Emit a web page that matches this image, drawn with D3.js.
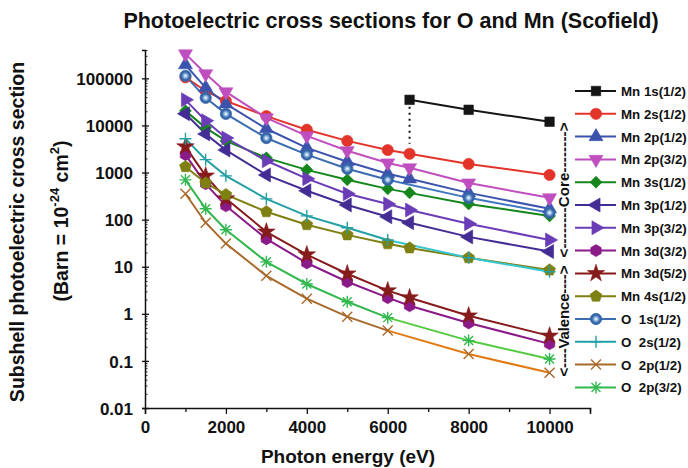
<!DOCTYPE html>
<html>
<head>
<meta charset="utf-8">
<script src="https://cdn.jsdelivr.net/npm/d3@7"></script>
<style>
  html, body { margin: 0; padding: 0; background: #fff; }
  svg { display: block; }
  text { font-family: "Liberation Sans", Arial, Helvetica, sans-serif; font-weight: bold; fill: #111; }
</style>
</head>
<body>
<svg id="chart" width="688" height="468"></svg>
<script>
// Photon energies (eV) at which cross sections are tabulated
const energyMn = [1000, 1500, 2000, 3000, 4000, 5000, 6000, 6540, 8000, 10000];
const energyO = [1000, 1500, 2000, 3000, 4000, 5000, 6000, 8000, 10000];
const energyMn1s = [6540, 8000, 10000];

// Subshell photoelectric cross sections (barn)
const mn1s   = [35000, 21500, 12000];
const mn2s   = [105000, 54000, 33000, 15800, 8100, 4700, 3000, 2500, 1520, 890];
const mn2p12 = [194000, 63000, 28700, 8500, 3340, 1700, 940, 735, 370, 170];
const mn2p32 = [331000, 125000, 51600, 14500, 6000, 2900, 1600, 1260, 600, 290];
const mn3s   = [20400, 8900, 4700, 2050, 1140, 700, 450, 370, 215, 120];
const mn3p12 = [17700, 6600, 3000, 890, 410, 205, 115, 86, 43, 21];
const mn3p32 = [35000, 12600, 5400, 1780, 740, 355, 215, 160, 82, 37];
const mn3d32 = [2400, 575, 196, 39, 12, 4.8, 2.2, 1.48, 0.64, 0.23];
const mn3d52 = [3540, 850, 280, 55, 18, 7.1, 3.1, 2.2, 0.91, 0.34];
const mn4s   = [1330, 600, 340, 147, 78, 47.5, 30.6, 25, 15.5, 8.5];
const o1s    = [113000, 38600, 17600, 5400, 2400, 1200, 700, 290, 140];
const o2s    = [5200, 1880, 850, 276, 120, 67, 37, 15.5, 7.8];
const o2p12  = [355, 86, 31, 6.4, 2.1, 0.87, 0.44, 0.14, 0.056];
const o2p32  = [700, 170, 61, 12.7, 4.3, 1.8, 0.83, 0.27, 0.11];

const seriesNames = ["Mn 1s(1/2)", "Mn 2s(1/2)", "Mn 2p(1/2)", "Mn 2p(3/2)", "Mn 3s(1/2)",
  "Mn 3p(1/2)", "Mn 3p(3/2)", "Mn 3d(3/2)", "Mn 3d(5/2)", "Mn 4s(1/2)",
  "O  1s(1/2)", "O  2s(1/2)", "O  2p(1/2)", "O  2p(3/2)"];

// Axis ticks
const xMajorTicks = [0, 2000, 4000, 6000, 8000, 10000];
const xTickLabels = ["0", "2000", "4000", "6000", "8000", "10000"];
const xMinorTicks = [1000, 3000, 5000, 7000, 9000, 11000];
const yMajorTicks = [0.01, 0.1, 1, 10, 100, 1000, 10000, 100000];
const yTickLabels = ["0.01", "0.1", "1", "10", "100", "1000", "10000", "100000"];

const svg = d3.select("#chart");
const x = d3.scaleLinear().domain([0, 11000]).range([145, 590]);
const y = d3.scaleLog().domain([0.01, 4e5]).range([408, 50]);

// Marker shapes
function poly(n, r, start) {
  const pts = d3.range(n).map(i => {
    const a = start + i * 2 * Math.PI / n;
    return [r * Math.cos(a), r * Math.sin(a)];
  });
  return "M" + pts.map(p => p[0].toFixed(2) + "," + p[1].toFixed(2)).join("L") + "Z";
}
const shapes = {
  square:   { d: d3.symbol(d3.symbolSquare, 90)(), rot: 0, filled: true },
  circle:   { d: d3.symbol(d3.symbolCircle, 100)(), rot: 0, filled: true },
  triUp:    { d: d3.symbol(d3.symbolTriangle, 85)(), rot: 0, filled: true },
  triDown:  { d: d3.symbol(d3.symbolTriangle, 85)(), rot: 180, filled: true },
  triLeft:  { d: d3.symbol(d3.symbolTriangle, 85)(), rot: -90, filled: true },
  triRight: { d: d3.symbol(d3.symbolTriangle, 85)(), rot: 90, filled: true },
  diamond:  { d: d3.symbol(d3.symbolSquare, 72)(), rot: 45, filled: true },
  hexagon:  { d: poly(6, 6, Math.PI / 6), rot: 0, filled: true },
  star:     { d: d3.symbol(d3.symbolStar, 95)(), rot: 0, filled: true },
  pentagon: { d: poly(5, 6.2, -Math.PI / 2), rot: 0, filled: true },
  sphere:   { d: d3.symbol(d3.symbolCircle, 100)(), rot: 0, filled: true, sphere: true },
  plus:     { d: "M-6,0H6M0,-6V6", rot: 0, filled: false },
  times:    { d: "M-5,-5L5,5M-5,5L5,-5", rot: 0, filled: false },
  asterisk: { d: "M-6,0H6M0,-6V6M-4.5,-4.5L4.5,4.5M-4.5,4.5L4.5,-4.5", rot: 0, filled: false }
};

const series = [
  { name: seriesNames[0],  xs: energyMn1s, ys: mn1s,   color: "#151515", shape: "square" },
  { name: seriesNames[1],  xs: energyMn, ys: mn2s,   color: "#e3342a", shape: "circle" },
  { name: seriesNames[2],  xs: energyMn, ys: mn2p12, color: "#3b53ad", shape: "triUp" },
  { name: seriesNames[3],  xs: energyMn, ys: mn2p32, color: "#bf4fbf", shape: "triDown" },
  { name: seriesNames[4],  xs: energyMn, ys: mn3s,   color: "#14861c", shape: "diamond" },
  { name: seriesNames[5],  xs: energyMn, ys: mn3p12, color: "#432c94", shape: "triLeft" },
  { name: seriesNames[6],  xs: energyMn, ys: mn3p32, color: "#6a3cb6", shape: "triRight" },
  { name: seriesNames[7],  xs: energyMn, ys: mn3d32, color: "#8a1a88", shape: "hexagon" },
  { name: seriesNames[8],  xs: energyMn, ys: mn3d52, color: "#861b1b", shape: "star" },
  { name: seriesNames[9],  xs: energyMn, ys: mn4s,   color: "#7f8012", shape: "pentagon" },
  { name: seriesNames[10], xs: energyO, ys: o1s,   color: "#3a6cae", tail: "#4177c0", shape: "sphere" },
  { name: seriesNames[11], xs: energyO, ys: o2s,   color: "#22a0a4", tail: "#36c6cf", shape: "plus" },
  { name: seriesNames[12], xs: energyO, ys: o2p12, color: "#a86a2c", tail: "#e27a14", shape: "times" },
  { name: seriesNames[13], xs: energyO, ys: o2p32, color: "#33b850", tail: "#52cc3e", shape: "asterisk" }
];

// Gradient for the shaded O 1s sphere marker
const defs = svg.append("defs");
const grad = defs.append("radialGradient").attr("id", "sphereGrad")
  .attr("cx", "50%").attr("cy", "50%").attr("r", "55%");
grad.append("stop").attr("offset", "0%").attr("stop-color", "#ffffff");
grad.append("stop").attr("offset", "28%").attr("stop-color", "#9cc0e6");
grad.append("stop").attr("offset", "60%").attr("stop-color", "#3a6cae");
grad.append("stop").attr("offset", "100%").attr("stop-color", "#2b5390");

function drawMarker(g, shapeKey, color, cx, cy) {
  const s = shapes[shapeKey];
  const p = g.append("path")
    .attr("d", s.d)
    .attr("transform", `translate(${cx},${cy}) rotate(${s.rot})`);
  if (s.sphere) {
    p.attr("fill", "url(#sphereGrad)").attr("stroke", color).attr("stroke-width", 0.8);
  } else if (s.filled) {
    p.attr("fill", color).attr("stroke", color).attr("stroke-width", 0.6);
  } else {
    p.attr("fill", "none").attr("stroke", color).attr("stroke-width", 1.4);
  }
}

const line = d3.line().x(d => x(d[0])).y(d => y(d[1]));
const plot = svg.append("g");

series.forEach(s => {
  const pts = s.xs.map((e, i) => [e, s.ys[i]]);
  if (s.tail) {
    const k = s.xs.indexOf(6000);
    plot.append("path").datum(pts.slice(0, k + 1)).attr("d", line)
      .attr("fill", "none").attr("stroke", s.color).attr("stroke-width", 2);
    plot.append("path").datum(pts.slice(k)).attr("d", line)
      .attr("fill", "none").attr("stroke", s.tail).attr("stroke-width", 2);
  } else {
    plot.append("path").datum(pts).attr("d", line)
      .attr("fill", "none").attr("stroke", s.color).attr("stroke-width", 2);
  }
});

// Dotted drop from the Mn K-edge point to the L1 curve
plot.append("line")
  .attr("x1", x(energyMn1s[0])).attr("x2", x(energyMn1s[0]))
  .attr("y1", y(mn1s[0]) + 7).attr("y2", y(mn2s[energyMn.indexOf(6540)]) - 10)
  .attr("stroke", "#111").attr("stroke-width", 2).attr("stroke-dasharray", "2,4");

series.forEach(s => {
  s.xs.forEach((e, i) => drawMarker(plot, s.shape, s.color, x(e), y(s.ys[i])));
});

// Axes
const axisFont = g => g.selectAll("text")
  .style("font-size", "17px").style("font-weight", "bold")
  .style("font-family", "'Liberation Sans', Arial, sans-serif").attr("fill", "#111");

const xAxis = svg.append("g").attr("transform", "translate(0,408)")
  .call(d3.axisBottom(x).tickValues(xMajorTicks).tickSize(6).tickPadding(7)
    .tickFormat((d, i) => xTickLabels[i]));
xAxis.call(axisFont);
xAxis.select(".domain").attr("stroke", "#111").attr("stroke-width", 1.5);
xAxis.selectAll(".tick line").attr("stroke", "#111").attr("stroke-width", 1.3);
svg.append("g").attr("transform", "translate(0,408)")
  .call(d3.axisBottom(x).tickValues(xMinorTicks).tickSize(4).tickFormat(""))
  .call(g => g.select(".domain").remove())
  .selectAll(".tick line").attr("stroke", "#111").attr("stroke-width", 1.3);

const yAxis = svg.append("g").attr("transform", "translate(145,0)")
  .call(d3.axisLeft(y).tickValues(yMajorTicks).tickSize(3).tickPadding(9)
    .tickFormat((d, i) => yTickLabels[i]));
yAxis.call(axisFont);
yAxis.selectAll(".tick text").attr("dy", "0.36em");
yAxis.select(".domain").attr("stroke", "#111").attr("stroke-width", 1.5);
yAxis.selectAll(".tick line").attr("stroke", "#111").attr("stroke-width", 1.3);

const yMinor = [];
yMajorTicks.forEach(m => d3.range(2, 10).forEach(k => { if (m * k <= 4e5) yMinor.push(m * k); }));
svg.append("g").attr("transform", "translate(145,0)")
  .call(d3.axisRight(y).tickValues(yMajorTicks).tickSize(4).tickFormat(""))
  .call(g => g.select(".domain").remove())
  .selectAll(".tick line").attr("stroke", "#111").attr("stroke-width", 1.3);
svg.append("g").attr("transform", "translate(145,0)")
  .call(d3.axisRight(y).tickValues(yMinor).tickSize(2.5).tickFormat(""))
  .call(g => g.select(".domain").remove())
  .selectAll(".tick line").attr("stroke", "#111").attr("stroke-width", 0.9);

// Titles
svg.append("text").attr("x", 391).attr("y", 28).attr("text-anchor", "middle")
  .style("font-size", "21.5px").text("Photoelectric cross sections for O and Mn (Scofield)");

svg.append("text").attr("x", 348).attr("y", 463).attr("text-anchor", "middle")
  .style("font-size", "19px").text("Photon energy (eV)");

svg.append("text").attr("transform", "translate(24,232) rotate(-90)")
  .attr("text-anchor", "middle").style("font-size", "19.5px")
  .text("Subshell photoelectric cross section");

const unit = svg.append("text").attr("transform", "translate(68,221) rotate(-90)")
  .attr("text-anchor", "middle").style("font-size", "19.5px");
unit.append("tspan").text("(Barn = 10");
unit.append("tspan").attr("dy", -9).style("font-size", "13px").text("-24");
unit.append("tspan").attr("dy", 9).text(" cm");
unit.append("tspan").attr("dy", -9).style("font-size", "13px").text("2");
unit.append("tspan").attr("dy", 9).text(")");

// Core / valence brackets
svg.append("text").attr("transform", "translate(568.5,190) rotate(-90)")
  .attr("text-anchor", "middle").style("font-size", "15px")
  .attr("textLength", 135).attr("lengthAdjust", "spacing")
  .text("<--------Core-------->");
svg.append("text").attr("transform", "translate(568.5,321) rotate(-90)")
  .attr("text-anchor", "middle").style("font-size", "15px")
  .attr("textLength", 111).attr("lengthAdjust", "spacing")
  .text("<----Valence---->");

// Legend
const legend = svg.append("g");
series.forEach((s, i) => {
  const ly = 91 + i * 22.8;
  legend.append("line").attr("x1", 575).attr("x2", 616).attr("y1", ly).attr("y2", ly)
    .attr("stroke", s.color).attr("stroke-width", 2);
  drawMarker(legend, s.shape, s.color, 596, ly);
  legend.append("text").attr("x", 621).attr("y", ly + 5)
    .style("font-size", "13.3px").style("white-space", "pre").text(s.name);
});
</script>
</body>
</html>
